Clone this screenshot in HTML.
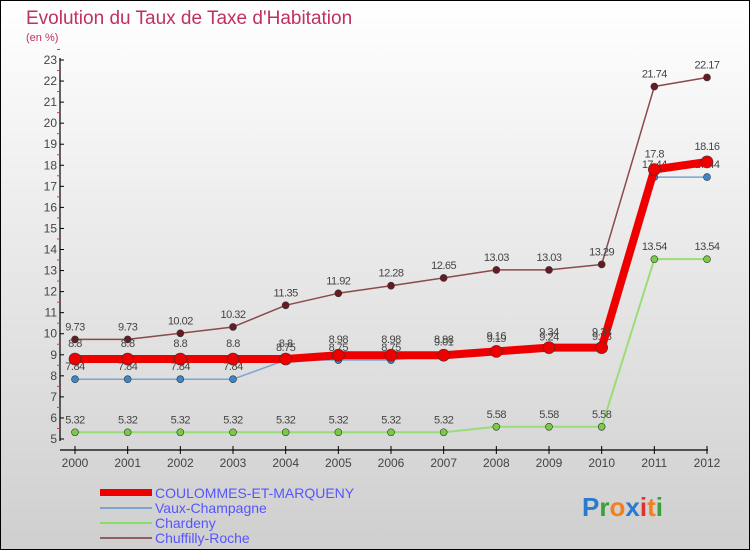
<!DOCTYPE html>
<html><head><meta charset="utf-8"><style>
body{margin:0}
#c{width:750px;height:550px;position:relative;box-sizing:border-box;border:1px solid #000;background:linear-gradient(#fff,#cfcfcf);font-family:"Liberation Sans",sans-serif;overflow:hidden}
</style></head><body>
<div id="c">
<svg id="s" width="750" height="550" style="position:absolute;left:-1px;top:-1px">
<text x="26" y="24" font-size="19" fill="#c03060">Evolution du Taux de Taxe d'Habitation</text>
<text x="26" y="41" font-size="11" fill="#c03060">(en %)</text>
<g id="axes"></g><g id="series"></g>
<g>
<rect x="100" y="489" width="52" height="7" fill="#e00"/>
<text x="155" y="498" font-size="14" fill="#5555ff">COULOMMES-ET-MARQUENY</text>
<rect x="100" y="507" width="52" height="2" fill="#7aa6cf"/>
<text x="155" y="513" font-size="14" fill="#5555ff">Vaux-Champagne</text>
<rect x="100" y="522" width="52" height="2" fill="#88dd66"/>
<text x="155" y="528" font-size="14" fill="#5555ff">Chardeny</text>
<rect x="100" y="537" width="52" height="2" fill="#906060"/>
<text x="155" y="543" font-size="14" fill="#5555ff">Chuffilly-Roche</text>
</g>
<text x="582" y="516" font-size="26" font-weight="bold"><tspan fill="#2a7bd0">P</tspan><tspan fill="#3aa03a">r</tspan><tspan fill="#f08020">o</tspan><tspan fill="#2a7bd0">x</tspan><tspan fill="#e03030">i</tspan><tspan fill="#f08020">t</tspan><tspan fill="#3aa03a">i</tspan></text>
</svg>
</div>
<script>
const years=[2000,2001,2002,2003,2004,2005,2006,2007,2008,2009,2010,2011,2012];
const coulommes=[8.8,8.8,8.8,8.8,8.8,8.98,8.98,8.98,9.16,9.34,9.34,17.8,18.16];
const vaux=[7.84,7.84,7.84,7.84,8.75,8.75,8.75,9.01,9.19,9.24,9.28,17.44,17.44];
const chardeny=[5.32,5.32,5.32,5.32,5.32,5.32,5.32,5.32,5.58,5.58,5.58,13.54,13.54];
const chuffilly=[9.73,9.73,10.02,10.32,11.35,11.92,12.28,12.65,13.03,13.03,13.29,21.74,22.17];
const yTicks=[5,6,7,8,9,10,11,12,13,14,15,16,17,18,19,20,21,22,23];
const NS="http://www.w3.org/2000/svg";
const X=i=>75+i*(707-75)/(years.length-1);
const Y=v=>439-(v-5)*(439-60)/18;
function mk(tag,at,parent){const e=document.createElementNS(NS,tag);for(const k in at)e.setAttribute(k,at[k]);parent.appendChild(e);return e;}
const ax=document.getElementById('axes'),sg=document.getElementById('series');
let yl=mk('line',{x1:60,y1:58,x2:60,y2:441,stroke:'#000','stroke-width':1.2},ax);


let xl=mk('line',{x1:60,y1:450,x2:708,y2:450,stroke:'#000','stroke-width':1.2},ax);


yTicks.forEach(v=>{
 mk('line',{x1:60,y1:Y(v),x2:64,y2:Y(v),stroke:'#000'},ax);
 mk('line',{x1:57,y1:Y(v+0.5),x2:60,y2:Y(v+0.5),stroke:'#e33'},ax);
 const t=mk('text',{x:57,y:Y(v)+4,'font-size':12,fill:'#444','text-anchor':'end'},ax);t.textContent=v;
 
 
});
years.forEach((y,i)=>{
 mk('line',{x1:X(i),y1:446,x2:X(i),y2:454,stroke:'#000'},ax);
 const t=mk('text',{x:X(i),y:467,'font-size':12,fill:'#444','text-anchor':'middle'},ax);t.textContent=y;
 
 
});
function series(vals,color,dot,w,r,name,lblDy){
 const g=mk('g',{},sg);
 
 
 mk('polyline',{points:vals.map((v,i)=>X(i)+','+Y(v)).join(' '),fill:'none',stroke:color,'stroke-width':w,'stroke-linejoin':'round'},g);
 vals.forEach((v,i)=>{
  const c=mk('circle',{cx:X(i),cy:Y(v),r:r,fill:dot,stroke:'#333','stroke-width':0.6},g);
  
  
  const t=mk('text',{x:X(i),y:Y(v)+lblDy,'font-size':11,fill:'#444','text-anchor':'middle','letter-spacing':'-0.5'},g);t.textContent=v;
  
  
 });
}
series(chardeny,'#99dd77','#77cc44',2,3.5,'series-chardeny',-9);
series(vaux,'#7aa6cf','#3a88cc',1.5,3.5,'series-vaux',-9);
series(chuffilly,'#8a4a4a','#661a22',1.5,3.5,'series-chuffilly',-9);
series(coulommes,'#ee0000','#ee0000',8,6,'series-coulommes',-12);
</script>
</body></html>
